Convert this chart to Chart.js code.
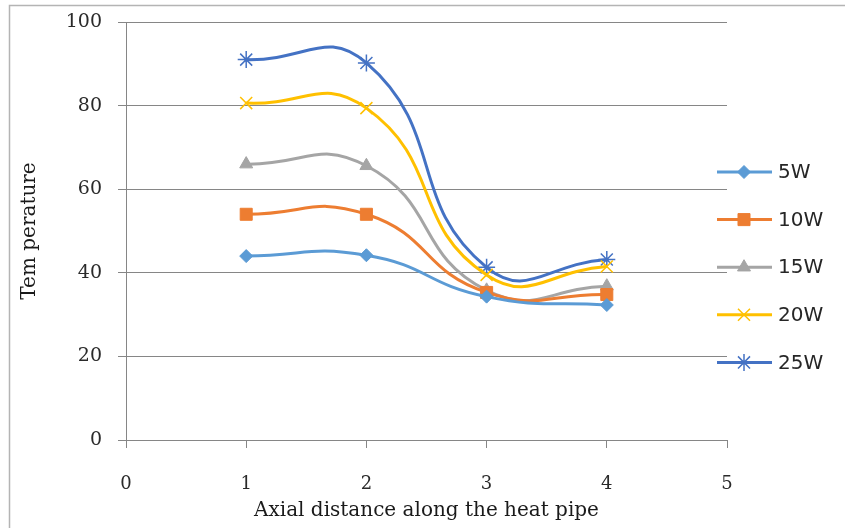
<!DOCTYPE html>
<html>
<head>
<meta charset="utf-8">
<script src="https://cdn.jsdelivr.net/npm/chart.js@4/dist/chart.umd.min.js"></script>
<style>
  html, body { margin: 0; padding: 0; background: #fff; }
  #wrap { width: 845px; height: 528px; position: relative; }
</style>
</head>
<body>
<div id="wrap"><canvas id="c" width="845" height="528"></canvas></div>
<script>
// ---- data ----
const xPositions = [1, 2, 3, 4];
const seriesNames = ['5W', '10W', '15W', '20W', '25W'];
const s5W  = [44.0, 44.2, 34.3, 32.3];
const s10W = [54.0, 54.0, 35.3, 34.8];
const s15W = [66.0, 65.6, 35.8, 36.8];
const s20W = [80.6, 79.4, 39.5, 41.5];
const s25W = [91.0, 90.2, 41.3, 43.2];
const xTicks = [0, 1, 2, 3, 4, 5];
const yTicks = [0, 20, 40, 60, 80, 100];
const xTitle = 'Axial distance along the heat pipe';
const yTitle = 'Tem perature';

const seriesValues = [s5W, s10W, s15W, s20W, s25W];
const colors = ['#5B9BD5', '#ED7D31', '#A5A5A5', '#FFC000', '#4472C4'];
const pointStyles = ['rectRot', 'rect', 'triangle', 'crossRot', 'star'];
const pointRadii = [6.5, 8.5, 7.5, 8.5, 8.5];

const datasets = seriesNames.map((name, i) => ({
  label: name,
  data: xPositions.map((x, j) => ({ x: x, y: seriesValues[i][j] })),
  borderColor: colors[i],
  backgroundColor: colors[i],
  pointBackgroundColor: colors[i],
  pointBorderColor: colors[i],
  pointStyle: pointStyles[i],
  pointRadius: pointRadii[i],
  pointBorderWidth: (i >= 3) ? 1.5 : 1,
  borderWidth: 3,
  showLine: true,
  tension: 0.5,
  fill: false
}));

const frame = {
  id: 'frame',
  beforeDraw(chart) {
    const ctx = chart.ctx;
    ctx.save();
    ctx.fillStyle = '#ffffff';
    ctx.fillRect(0, 0, chart.width, chart.height);
    ctx.strokeStyle = '#b4b4b4';
    ctx.lineWidth = 1.5;
    ctx.beginPath();
    ctx.moveTo(9.5, 528);
    ctx.lineTo(9.5, 5.5);
    ctx.lineTo(845, 5.5);
    ctx.stroke();
    ctx.restore();
  }
};

const sideLegend = {
  id: 'sideLegend',
  afterDraw(chart) {
    const ctx = chart.ctx;
    ctx.save();
    const x0 = 717, x1 = 772, xm = 744, xt = 778;
    const yStart = 172, yStep = 47.6;
    chart.data.datasets.forEach((ds, i) => {
      const y = yStart + i * yStep;
      ctx.strokeStyle = ds.borderColor;
      ctx.lineWidth = 3;
      ctx.beginPath();
      ctx.moveTo(x0, y);
      ctx.lineTo(x1, y);
      ctx.stroke();
      ctx.fillStyle = ds.pointBackgroundColor;
      ctx.strokeStyle = ds.pointBorderColor;
      ctx.lineWidth = ds.pointBorderWidth;
      Chart.helpers.drawPoint(ctx, { pointStyle: ds.pointStyle, radius: ds.pointRadius, rotation: 0, borderWidth: ds.pointBorderWidth }, xm, y);
      ctx.fillStyle = '#262626';
      ctx.font = '20px "DejaVu Sans"';
      ctx.textAlign = 'left';
      ctx.textBaseline = 'middle';
      ctx.fillText(ds.label, xt, y + 1);
    });
    ctx.restore();
  }
};

new Chart(document.getElementById('c'), {
  type: 'scatter',
  data: { datasets },
  options: {
    responsive: false,
    animation: false,
    devicePixelRatio: 1,
    layout: { padding: { left: 0, top: 22, right: 118, bottom: 0 } },
    plugins: {
      legend: { display: false },
      tooltip: { enabled: false }
    },
    scales: {
      x: {
        type: 'linear',
        min: 0, max: 5,
        afterBuildTicks: (scale) => { scale.ticks = xTicks.map(v => ({ value: v })); },
        afterFit: (scale) => { scale.height = 88; scale.paddingLeft = 0; scale.paddingRight = 0; },
        grid: { drawOnChartArea: false, drawTicks: true, tickLength: 8, color: '#868686', lineWidth: 1 },
        border: { display: true, color: '#868686', width: 1 },
        ticks: { padding: 26, color: '#2a2a2a', font: { family: 'DejaVu Serif', size: 18 } },
        title: { display: true, text: xTitle, color: '#1a1a1a', font: { family: 'DejaVu Serif', size: 20 }, padding: { top: 0, bottom: 5 } }
      },
      y: {
        type: 'linear',
        min: 0, max: 100,
        afterBuildTicks: (scale) => { scale.ticks = yTicks.map(v => ({ value: v })); },
        afterFit: (scale) => { scale.width = 126; scale.paddingTop = 0; scale.paddingBottom = 0; },
        grid: { drawOnChartArea: true, drawTicks: true, tickLength: 8, color: '#868686', lineWidth: 1 },
        border: { display: true, color: '#868686', width: 1 },
        ticks: { padding: 16, color: '#2a2a2a', font: { family: 'DejaVu Serif', size: 19 } },
        title: { display: true, text: yTitle, color: '#1a1a1a', font: { family: 'DejaVu Serif', size: 20 }, padding: { top: 18, bottom: 0 } }
      }
    }
  },
  plugins: [frame, sideLegend]
});
</script>
</body>
</html>
